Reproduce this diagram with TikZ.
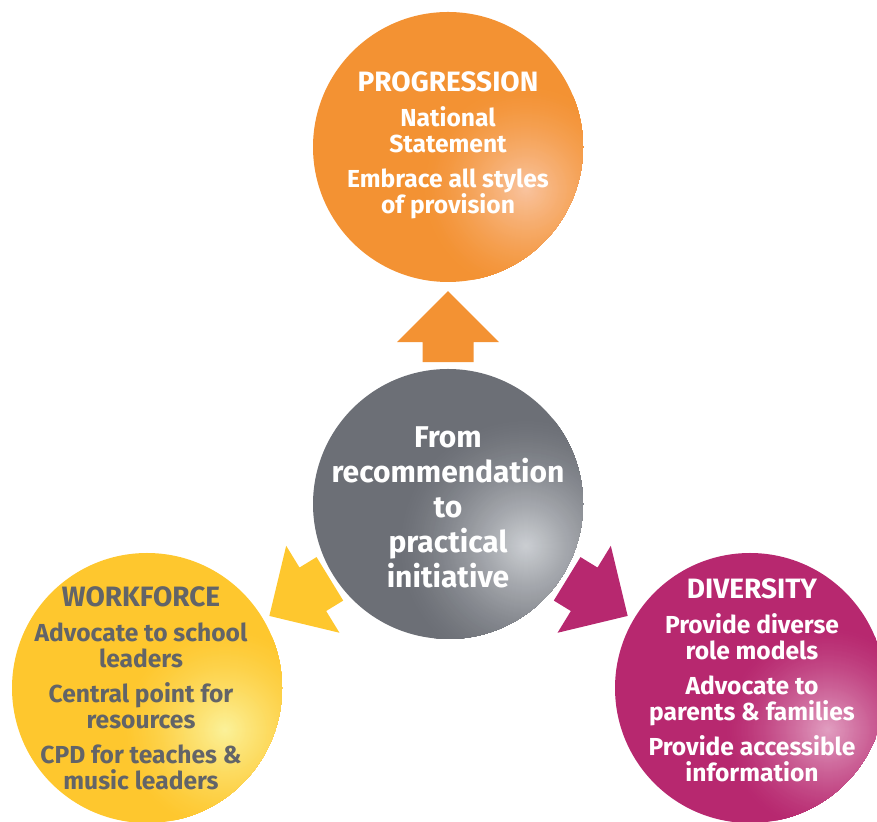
\documentclass[tikz,border=0pt]{standalone}
\usepackage{fontspec}
\setmainfont{Fira Sans}
\usetikzlibrary{calc}

\definecolor{progorange}{RGB}{243,146,51}
\definecolor{proglight}{RGB}{249,196,160}
\definecolor{workyellow}{RGB}{254,199,46}
\definecolor{worklight}{RGB}{251,242,155}
\definecolor{divmagenta}{RGB}{183,40,111}
\definecolor{divlight}{RGB}{226,160,194}
\definecolor{hubgrey}{RGB}{108,111,118}
\definecolor{hublight}{RGB}{205,208,212}
\definecolor{worktext}{RGB}{98,100,104}

\newcommand\heading[1]{{\fontsize{28}{32}\selectfont #1}}

\tikzset{
  ball/.style={circle, minimum size=270pt, inner sep=0pt},
  % soft highlight spot: rings that fade from the light colour into the base colour
  glow/.style n args={3}{fill=#2, path picture={
    \coordinate (spot) at ($(path picture bounding box.center)+(78,-42)$);
    \foreach \r in {#3,...,2} {
      \pgfmathtruncatemacro\mix{100*(1-\r/#3)^1.4}
      \fill[#1!\mix!#2] (spot) circle (\r);
    }}},
  balltext/.style={align=center, inner sep=0pt,
    font=\bfseries\fontsize{24.6}{26}\selectfont},
  blockarrow/.pic={
    \fill (0,0) -- (-51,51) -- (-51,25.5) -- (-71,25.5) -- (-71,-25.5)
      -- (-51,-25.5) -- (-51,-51) -- cycle;
  }
}

\begin{document}
\begin{tikzpicture}[x=1pt, y=1pt]
  \useasboundingbox (0,0) rectangle (877,821);

  % the four circles
  \node[ball, glow={proglight}{progorange}{105}] (prog) at (448,674) {};
  \node[ball, glow={hublight}{hubgrey}{130}] (hub) at (448,317) {};
  \node[ball, glow={worklight}{workyellow}{105}] (work) at (147,133) {};
  \node[ball, glow={divlight}{divmagenta}{105}] (div) at (750,133) {};

  % their texts
  \node[balltext, text=white] (progtext) at ([yshift=2]prog.center)
    {\heading{PROGRESSION}\\[9pt] National\\ Statement\\[9pt] Embrace all styles\\ of provision};
  \node[balltext, text=white, font=\bfseries\fontsize{30}{35}\selectfont] (hubtext) at ([yshift=-3]hub.center)
    {From\\ recommendation\\ to\\ practical\\ initiative};
  \node[balltext, text=worktext] (worktext) at ([xshift=-6]work.center)
    {\heading{WORKFORCE}\\[9pt] Advocate to school\\ leaders\\[9pt] Central point for\\ resources\\[9pt] CPD for teaches \&\\ music leaders};
  \node[balltext, text=white] (divtext) at ([xshift=2,yshift=8]div.center)
    {\heading{DIVERSITY}\\[9pt] Provide diverse\\ role models\\[9pt] Advocate to\\ parents \& families\\[9pt] Provide accessible\\ information};

  % arrows out of the hub
  \pic[progorange, rotate=90] at ([yshift=-9pt]prog.south) {blockarrow};
  \pic[workyellow, rotate=211.5] at ($(work.center)+(30.5:142)$) {blockarrow};
  \pic[divmagenta, rotate=-31.5] at ($(div.center)+(149.5:142)$) {blockarrow};
\end{tikzpicture}
\end{document}
